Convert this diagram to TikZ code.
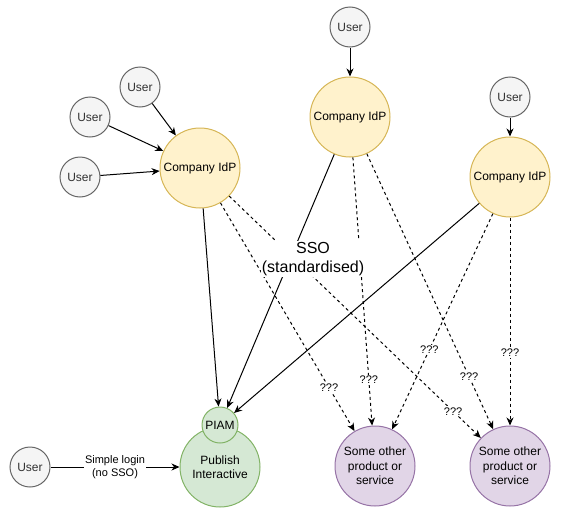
\documentclass[tikz,border=0pt]{standalone}
\usepackage{fontspec}
\setmainfont{Liberation Sans}
\usetikzlibrary{arrows.meta}
\definecolor{userfill}{HTML}{F5F5F5}
\definecolor{userline}{HTML}{666666}
\definecolor{usertext}{HTML}{333333}
\definecolor{idpfill}{HTML}{FFF2CC}
\definecolor{idpline}{HTML}{D6B656}
\definecolor{pubfill}{HTML}{D5E8D4}
\definecolor{publine}{HTML}{82B366}
\definecolor{prodfill}{HTML}{E1D5E7}
\definecolor{prodline}{HTML}{9673A6}
\begin{document}
\begin{tikzpicture}[x=1pt,y=-1pt,
  user/.style={circle, draw=userline, fill=userfill, text=usertext, minimum size=40pt, inner sep=0pt, line width=1pt, font=\fontsize{12}{14}\selectfont},
  idp/.style={circle, draw=idpline, fill=idpfill, minimum size=80pt, inner sep=0pt, line width=1pt, font=\fontsize{12}{14}\selectfont},
  pub/.style={circle, draw=publine, fill=pubfill, minimum size=80pt, inner sep=0pt, line width=1pt, align=center, font=\fontsize{12}{14.4}\selectfont},
  piam/.style={circle, draw=publine, fill=pubfill, minimum size=36pt, inner sep=0pt, line width=1pt, font=\fontsize{12}{14}\selectfont},
  prod/.style={circle, draw=prodline, fill=prodfill, minimum size=80pt, inner sep=0pt, line width=1pt, align=center, font=\fontsize{12}{14.4}\selectfont},
  conn/.style={line width=1pt, -{Stealth[length=8pt,width=7pt,inset=2.5pt]}},
  maybe/.style={conn, dash pattern=on 3pt off 3pt},
  qlabel/.style={fill=white, inner sep=1pt, font=\fontsize{11}{12.5}\selectfont},
  ssolabel/.style={fill=white, inner sep=1pt, align=center, font=\fontsize{16}{19}\selectfont}
]
\useasboundingbox (0,0) rectangle (583,514);

\node[user] (ut) at (350,27) {User};
\node[user] (u1) at (140,87) {User};
\node[user] (u2) at (90,117) {User};
\node[user] (u3) at (80,177) {User};
\node[user] (ur) at (510,97) {User};
\node[user] (ub) at (30,467) {User};

\node[idp] (il) at (200,168) {Company IdP};
\node[idp] (im) at (350,117) {Company IdP};
\node[idp] (ir) at (510,177) {Company IdP};

\node[pub] (pub) at (220,467) {Publish\\Interactive};
\node[piam] (piam) at (220,425) {PIAM};

\node[prod] (p1) at (375,466) {Some other\\product or\\service};
\node[prod] (p2) at (510,466) {Some other\\product or\\service};

\draw[conn] (ut) -- (im);
\draw[conn] (ur) -- (ir);
\draw[conn] (u1) -- (il);
\draw[conn] (u2) -- (il);
\draw[conn] (u3) -- (il);

\draw[conn] (il) -- (piam);
\draw[conn] (im) -- (piam);
\draw[conn] (ir) -- (piam);

\draw[conn] (ub) -- node[qlabel, align=center] {Simple login\\(no SSO)} (pub);

\draw[maybe] (il) -- node[qlabel, pos=0.81] {???} (p1);
\draw[maybe] (il) -- node[qlabel, pos=0.89] {???} (p2);
\draw[maybe] (im) -- node[qlabel, pos=0.83] {???} (p1);
\draw[maybe] (im) -- node[qlabel, pos=0.81] {???} (p2);
\draw[maybe] (ir) -- node[qlabel, pos=0.63] {???} (p1);
\draw[maybe] (ir) -- node[qlabel, pos=0.65] {???} (p2);

\node[ssolabel] (sso) at (313,259) {SSO\\(standardised)};
\end{tikzpicture}
\end{document}
